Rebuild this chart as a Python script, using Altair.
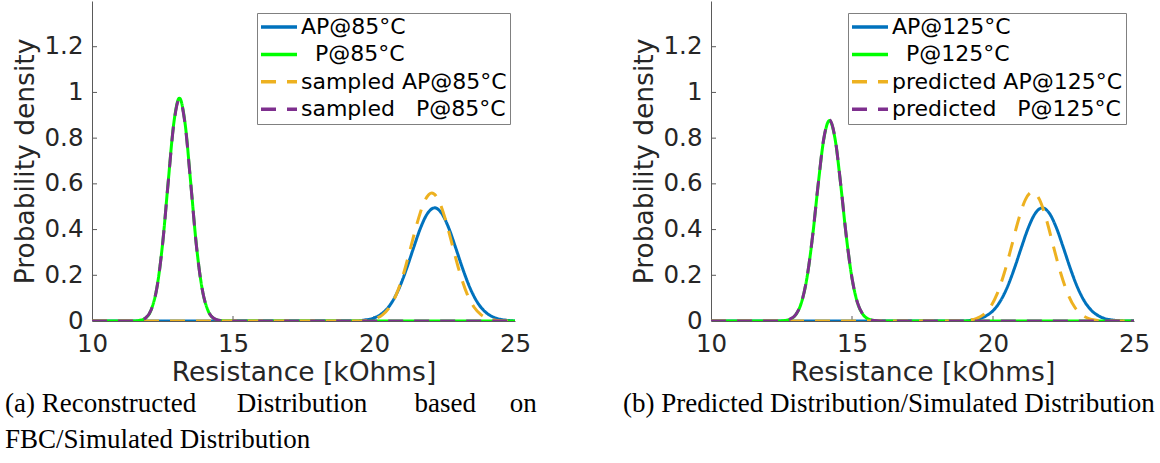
import altair as alt
import pandas as pd

# ---------------- data ----------------
# panel (a)
A85_x = [10, 19.4, 19.65, 19.9, 20.15, 20.4, 20.65, 20.9, 21.15, 21.4, 21.65, 21.9, 22.15,
         22.4, 22.65, 22.9, 23.15, 23.4, 23.65, 23.9, 24.15, 24.4, 24.65, 24.9, 25]
A85_y = [0, 0, .004, .0095, .022, .045, .085, .146, .227, .319, .407, .471, .495,
         .471, .407, .319, .227, .146, .085, .045, .022, .0095, .004, .001, 0]
P85_x = [10, 11.5, 11.7, 11.9, 12.1, 12.3, 12.5, 12.7, 12.9, 13.1, 13.3, 13.5, 13.7,
         13.9, 14.1, 14.3, 14.5, 14.7, 25]
P85_y = [0, 0, .003, .013, .050, .145, .334, .606, .865, .975, .865, .606, .334,
         .145, .050, .013, .003, 0, 0]
SA85_x = [10, 19.5, 19.8, 20.05, 20.3, 20.55, 20.8, 21.05, 21.3, 21.55, 21.8, 22.05,
          22.3, 22.55, 22.8, 23.05, 23.3, 23.55, 23.8, 24.05, 24.3, 24.6, 25]
SA85_y = [0, 0, .0037, .0106, .027, .060, .119, .208, .321, .437, .526, .56,
          .526, .437, .321, .208, .119, .060, .027, .0106, .0037, 0, 0]
SP85_x = P85_x
SP85_y = [0, 0, .003, .013, .049, .144, .332, .603, .861, .970, .861, .603, .332,
          .144, .049, .013, .003, 0, 0]

# panel (b)
A125_x = [10, 19.0, 19.25, 19.5, 19.75, 20.0, 20.25, 20.5, 20.75, 21.0, 21.25, 21.5, 21.75,
          22.0, 22.25, 22.5, 22.75, 23.0, 23.25, 23.5, 23.75, 24.0, 24.25, 24.5, 25]
A125_y = [0, 0, .004, .0095, .022, .045, .085, .146, .227, .319, .407, .471, .495,
          .471, .407, .319, .227, .146, .085, .045, .022, .0095, .004, .001, 0]
P125_x = [10, 12.4, 12.6, 12.8, 13.0, 13.2, 13.4, 13.6, 13.8, 14.0, 14.2, 14.4, 14.6,
          14.8, 15.0, 15.2, 15.4, 15.6, 15.8, 16.0, 25]
P125_y = [0, 0, .002, .0077, .027, .078, .187, .368, .596, .796, .877, .796, .596,
          .368, .187, .078, .027, .0077, .002, 0, 0]
PA125_x = [10, 18.9, 19.15, 19.4, 19.65, 19.9, 20.15, 20.4, 20.65, 20.9, 21.15, 21.4,
           21.65, 21.9, 22.15, 22.4, 22.65, 22.9, 23.15, 23.4, 23.65, 23.9, 25]
PA125_y = [0, 0, .0037, .0107, .027, .060, .120, .210, .323, .441, .531, .565,
           .531, .441, .323, .210, .120, .060, .027, .0107, .0037, 0, 0]
PP125_x = P125_x
PP125_y = [0, 0, .002, .0077, .027, .078, .188, .369, .598, .799, .880, .799, .598,
           .369, .188, .078, .027, .0077, .002, 0, 0]

NB = "\u00a0"
ZW = "\u200b"
FS = "\u2007"
SERIES_A = ["AP@85°C", ZW + FS + "P@85°C", "sampled AP@85°C", "sampled " + FS + "P@85°C"]
SERIES_B = ["AP@125°C", ZW + FS + "P@125°C", "predicted AP@125°C", "predicted " + FS + "P@125°C"]
COLORS = ["#0072BD", "#00FF00", "#EDB120", "#7E2F8E"]
DASHES = [[1, 0], [1, 0], [15, 11], [15, 11]]

X_TICKS = [10, 15, 20, 25]
X_INNER_TICKS = [15, 20]
Y_TICKS = [0, 0.2, 0.4, 0.6, 0.8, 1.0, 1.2]
Y_INNER_TICKS = [0.2, 0.4, 0.6, 0.8, 1.0, 1.2]

CAPTION_A = ["(a) Reconstructed" + NB * 5 + " Distribution" + NB * 6 + " based" + NB * 4 + " on",
             "\u2003\u2004FBC/Simulated Distribution"]
CAPTION_B = ["(b) Predicted Distribution/Simulated Distribution"]

W, H = 423, 320
SANS = "DejaVu Sans"
SYMBOL = "M-2.5,0H6.5"


def panel(series, xs, ys, caption, legend_x, dx):
    frames = []
    for name, xv, yv in zip(series, xs, ys):
        frames.append(pd.DataFrame({"x": xv, "y": yv, "series": name}))
    leg = alt.Legend(title=None, orient="none", legendX=legend_x, legendY=12,
                     symbolType=SYMBOL, symbolSize=64, symbolStrokeWidth=3.5,
                     labelFont=SANS, labelFontSize=22, labelColor="black",
                     labelOffset=19, padding=3, rowPadding=5.4,
                     strokeColor="#808080", fillColor="white", labelLimit=400)
    xs_ = alt.Scale(domain=[10, 25], nice=False, zero=False)
    ys_ = alt.Scale(domain=[0, 1.4], nice=False)
    xaxis = alt.Axis(values=X_TICKS, format="d", tickSize=0, labelPadding=11, grid=False,
                     labelFlush=False, labelOverlap=False,
                     title="Resistance [kOhms]", labelFont=SANS, labelFontSize=24.5,
                     titleFont=SANS, titleFontSize=26.5, titleFontWeight="normal",
                     labelColor="#262626", titleColor="#262626", domainColor="#5a5a5a",
                     titlePadding=4)
    yaxis = alt.Axis(values=Y_TICKS, format=".1~f", tickSize=0, labelPadding=9, grid=False,
                     labelFlush=False, labelOverlap=False,
                     title="Probability density", labelFont=SANS, labelFontSize=24.5,
                     titleFont=SANS, titleFontSize=26.5, titleFontWeight="normal",
                     labelColor="#262626", titleColor="#262626", domainColor="#5a5a5a",
                     titlePadding=5)
    layers = []
    for i, f in enumerate(frames):
        layers.append(
            alt.Chart(f).mark_line(strokeWidth=3, interpolate="monotone", clip=True).encode(
                x=alt.X("x:Q", scale=xs_, axis=xaxis),
                y=alt.Y("y:Q", scale=ys_, axis=yaxis),
                color=alt.Color("series:N", scale=alt.Scale(domain=series, range=COLORS), legend=leg),
                strokeDash=alt.StrokeDash("series:N", scale=alt.Scale(domain=series, range=DASHES), legend=leg),
            )
        )
    yt = alt.Chart(pd.DataFrame({"v": Y_INNER_TICKS})).mark_rule(color="#5a5a5a", strokeWidth=1).encode(
        y=alt.Y("v:Q", scale=ys_), x=alt.value(0), x2=alt.value(5))
    xt = alt.Chart(pd.DataFrame({"v": X_INNER_TICKS})).mark_rule(color="#5a5a5a", strokeWidth=1).encode(
        x=alt.X("v:Q", scale=xs_), y=alt.value(H), y2=alt.value(H - 5))
    return alt.layer(yt, xt, *layers).properties(
        width=W, height=H,
        title=alt.TitleParams(text=caption, orient="bottom", anchor="start", frame="group",
                              dx=dx, font="Liberation Serif", fontSize=27, fontWeight="normal",
                              color="black", lineHeight=36, offset=5),
    )


left = panel(SERIES_A, [A85_x, P85_x, SA85_x, SP85_x], [A85_y, P85_y, SA85_y, SP85_y],
             CAPTION_A, 165, -87)
right = panel(SERIES_B, [A125_x, P125_x, PA125_x, PP125_x], [A125_y, P125_y, PA125_y, PP125_y],
              CAPTION_B, 137, -88)

chart = alt.hconcat(left, right, spacing=86).resolve_scale(
    color="independent", strokeDash="independent"
).resolve_legend(color="independent", strokeDash="independent").properties(
    padding={"left": 5, "top": 1, "right": 0, "bottom": 0},
    background="white",
).configure_view(stroke=None)

chart.save("out.html", embed_options={"renderer": "svg", "actions": False})
